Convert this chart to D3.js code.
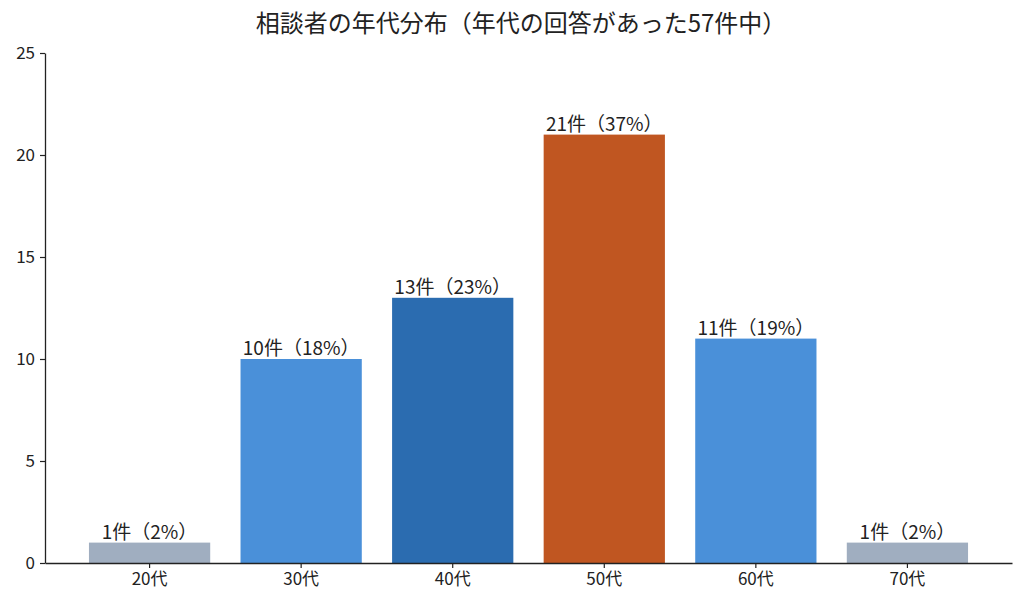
<!DOCTYPE html>
<html>
<head>
<meta charset="utf-8">
<script src="https://cdn.jsdelivr.net/npm/d3@7"></script>
<style>
  body { margin: 0; background: #fff; }
  svg { font-family: "Noto Sans CJK JP", "Noto Sans", sans-serif; }
</style>
</head>
<body>
<div id="chart"></div>
<script>
// data
const ages = ['20代', '30代', '40代', '50代', '60代', '70代'];
const counts = [1, 10, 13, 21, 11, 1];
const percents = [2, 18, 23, 37, 19, 2];
const barColors = ['#a0aec0', '#4a90d9', '#2b6cb0', '#c05621', '#4a90d9', '#a0aec0'];
const yTicks = [0, 5, 10, 15, 20, 25];

const W = 1024, H = 608;
const margin = { top: 53, right: 12, bottom: 45, left: 45 };
const width = W - margin.left - margin.right,
      height = H - margin.top - margin.bottom;

const svg = d3.select('#chart').append('svg')
  .attr('width', W)
  .attr('height', H);

svg.append('text')
  .attr('x', 521)
  .attr('y', 32)
  .attr('text-anchor', 'middle')
  .style('font-size', '24px')
  .attr('fill', '#222')
  .text('相談者の年代分布（年代の回答があった57件中）');

const g = svg.append('g')
  .attr('transform', 'translate(' + margin.left + ',' + margin.top + ')');

const x = d3.scaleBand()
  .domain(ages)
  .range([0, width])
  .paddingInner(0.2)
  .paddingOuter(0.29);

const y = d3.scaleLinear()
  .domain([0, 25])
  .range([height, 0]);

// bars
g.selectAll('rect.bar')
  .data(ages)
  .enter()
  .append('rect')
  .attr('class', 'bar')
  .attr('x', d => x(d))
  .attr('y', (d, i) => y(counts[i]))
  .attr('width', x.bandwidth())
  .attr('height', (d, i) => height - y(counts[i]))
  .attr('fill', (d, i) => barColors[i]);

// labels
g.selectAll('text.lbl')
  .data(ages)
  .enter()
  .append('text')
  .attr('class', 'lbl')
  .attr('x', d => x(d) + x.bandwidth() / 2)
  .attr('y', (d, i) => y(counts[i]) - 4)
  .attr('text-anchor', 'middle')
  .style('font-size', '19px')
  .attr('fill', '#222')
  .text((d, i) => counts[i] + '件（' + percents[i] + '%）');

// axes
const xAxis = g.append('g')
  .attr('transform', 'translate(0,' + height + ')')
  .call(d3.axisBottom(x).tickSize(5).tickSizeOuter(0).tickPadding(5));

const yAxis = g.append('g')
  .call(d3.axisLeft(y).tickValues(yTicks).tickSize(5).tickSizeOuter(0).tickPadding(5));

[xAxis, yAxis].forEach(a => {
  a.attr('font-size', null).attr('font-family', null);
  a.selectAll('.domain').attr('stroke', '#222').attr('stroke-width', 1.3);
  a.selectAll('.tick line').attr('stroke', '#222').attr('stroke-width', 1.2);
  a.selectAll('.tick text')
    .attr('fill', '#222')
    .style('font-size', '17px');
});
</script>
</body>
</html>
